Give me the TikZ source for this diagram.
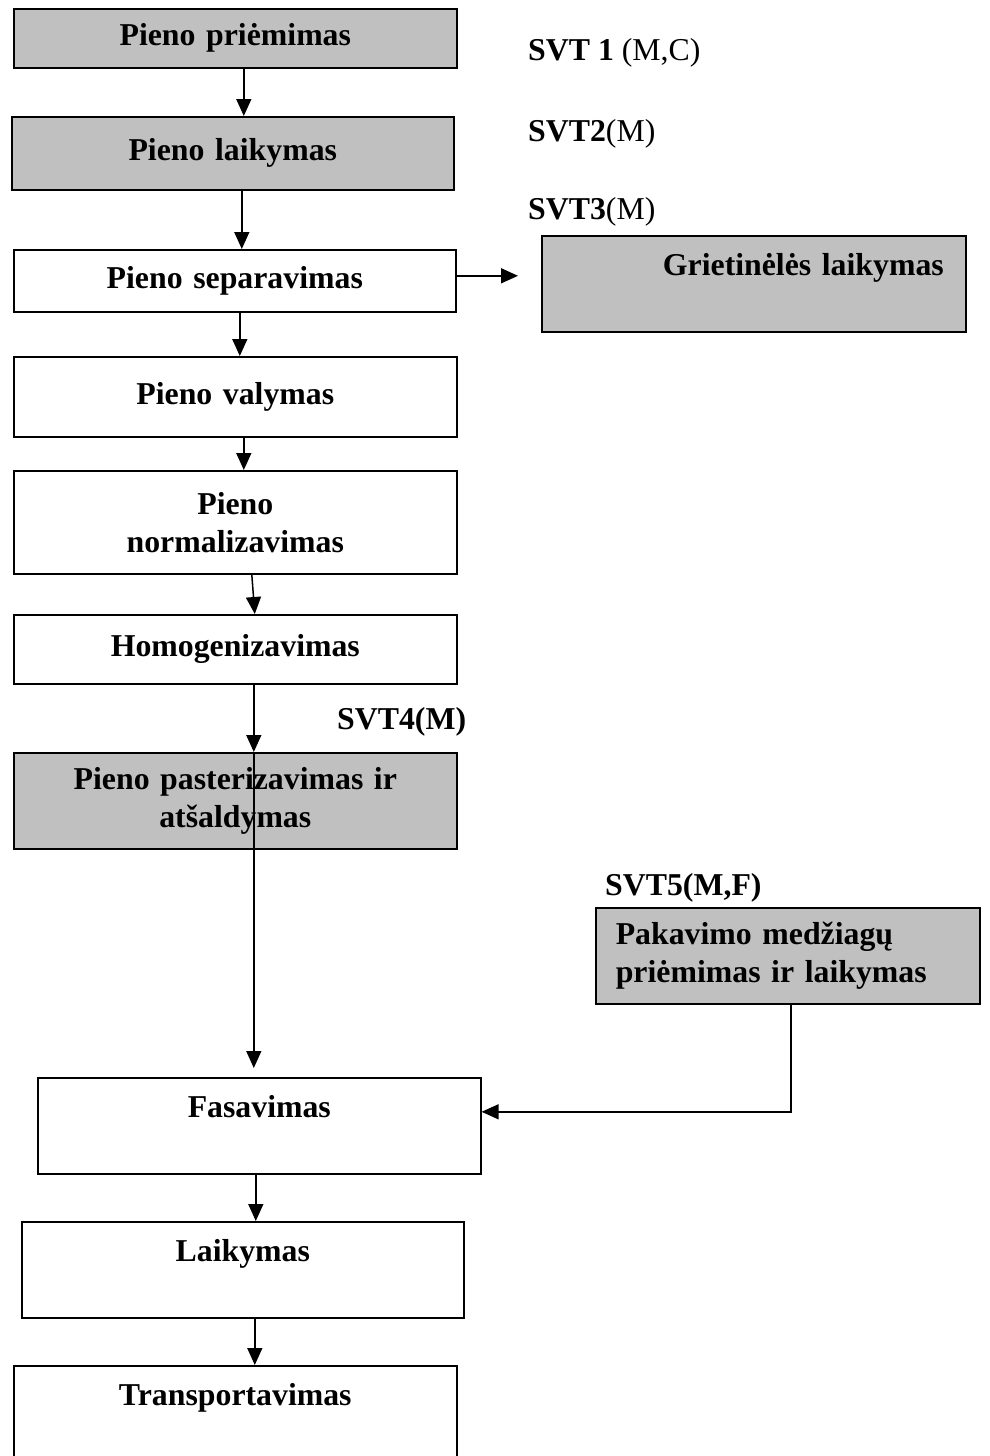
\documentclass[tikz,border=0pt]{standalone}
\usepackage{fontspec}
\setmainfont{Liberation Serif}
\usetikzlibrary{arrows.meta, positioning, calc}
\definecolor{boxgray}{RGB}{192,192,192}

\begin{document}
\begin{tikzpicture}[x=1pt, y=-1pt,
  stage/.style={draw, line width=1.6pt, anchor=north west, inner sep=0pt, align=center,
    font=\fontsize{31.8pt}{38pt}\selectfont\bfseries},
  shaded/.style={stage, fill=boxgray},
  flow/.style={line width=1.5pt, -{Triangle[length=17pt, width=15pt]}},
  svt/.style={anchor=base west, inner sep=0pt, font=\fontsize{31.8pt}{38pt}\selectfont}]
  \useasboundingbox (0,0) rectangle (989,1456);

  % Milk line
  \node[shaded, minimum width=443pt, minimum height=59pt, text width=433pt] (prie) at (13,8) {Pieno priėmimas};
  \node[shaded, minimum width=442pt, minimum height=73pt, text width=432pt] (laik) at (11,116) {Pieno laikymas};
  \node[stage, minimum width=442pt, minimum height=62pt, text width=432pt] (sep) at (13,249) {Pieno separavimas};
  \node[stage, minimum width=443pt, minimum height=80pt, text width=433pt] (val) at (13,356) {Pieno valymas};
  \node[stage, minimum width=443pt, minimum height=103pt, text width=433pt] (norm) at (13,470) {Pieno\\normalizavimas};
  \node[stage, minimum width=443pt, minimum height=69pt, text width=433pt] (homo) at (13,614) {Homogenizavimas};
  \node[shaded, minimum width=443pt, minimum height=96pt, text width=433pt] (past) at (13,752) {Pieno pasterizavimas ir\\atšaldymas};
  \node[stage, minimum width=443pt, minimum height=96pt, text width=433pt] (fas) at (37,1077) {Fasavimas\\\mbox{}};
  \node[stage, minimum width=442pt, minimum height=96pt, text width=432pt] (sand) at (21,1221) {Laikymas\\\mbox{}};
  \node[stage, minimum width=443pt, minimum height=96pt, text width=433pt] (trans) at (13,1365) {Transportavimas\\\mbox{}};

  % Side boxes
  \node[shaded, align=right, minimum width=424pt, minimum height=96pt, text width=380pt] (griet) at (541,235) {Grietinėlės laikymas\\\mbox{}};
  \node[shaded, align=left, minimum width=384pt, minimum height=96pt, text width=344pt] (pak) at (595,907) {Pakavimo medžiagų\\priėmimas ir laikymas};

  % Control points
  \node[svt] (svt1) at (528,60) {\textbf{SVT 1} (M,C)};
  \node[svt] (svt2) at (528,141) {\textbf{SVT2}(M)};
  \node[svt] (svt3) at (528,219) {\textbf{SVT3}(M)};
  \node[svt, font=\fontsize{31.8pt}{38pt}\selectfont\bfseries] (svt4) at (337,729) {SVT4(M)};
  \node[svt, font=\fontsize{31.8pt}{38pt}\selectfont\bfseries] (svt5) at (605,895) {SVT5(M,F)};

  % Arrows
  \draw[flow] ([xshift=8.5pt]prie.south) -- ([xshift=8.5pt]prie.south |- laik.north);
  \draw[flow] ([xshift=9pt]laik.south) -- ([xshift=9pt]laik.south |- sep.north);
  \draw[flow] ([xshift=5pt]sep.south) -- ([xshift=5pt]sep.south |- val.north);
  \draw[flow] ([xshift=8.5pt]val.south) -- ([xshift=8.5pt]val.south |- norm.north);
  \draw[flow] ([xshift=16.5pt]norm.south) -- ([xshift=19.5pt]homo.north);
  \draw[flow] ([xshift=18.5pt]homo.south) -- ([xshift=18.5pt]homo.south |- past.north);
  \draw[flow] ([xshift=18.5pt]homo.south |- past.north) -- ($([xshift=18.5pt]homo.south |- fas.north)+(0,-9)$);
  \draw[flow] ([xshift=-3.5pt]fas.south) -- ([xshift=-3.5pt]fas.south |- sand.north);
  \draw[flow] ([xshift=12pt]sand.south) -- ([xshift=12pt]sand.south |- trans.north);
  \draw[flow] ([yshift=5pt]sep.east) -- ($(griet.west |- sep.east)+(-23,-5)$);
  \draw[flow] ([xshift=3pt]pak.south) |- ([yshift=14pt]fas.east);
\end{tikzpicture}
\end{document}
